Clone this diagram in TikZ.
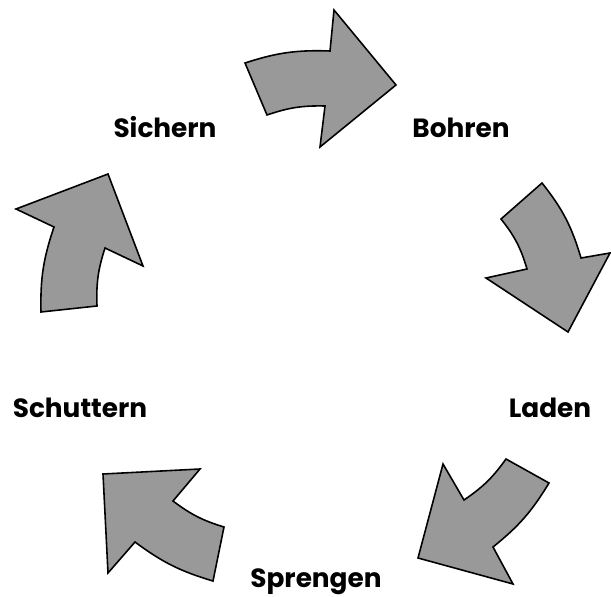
\documentclass[tikz,border=0pt]{standalone}
\usepackage{fontspec}
\setmainfont{Poppins}
\usepackage{tikz}
\usetikzlibrary{arrows.meta,calc}

\begin{document}
\begin{tikzpicture}[x=0.02cm, y=-0.02cm,
  cyclearrow/.style={draw=black, fill=black!40, line width=0.9pt, line join=miter},
  stage/.style={anchor=base, font=\fontsize{15}{18}\selectfont\bfseries, inner sep=0pt}]

\useasboundingbox (0,0) rectangle (611,597);

% labels
\node[stage] (sichern)   at (165,138) {Sichern};
\node[stage] (bohren)    at (461,138) {Bohren};
\node[stage] (laden)     at (550,417) {Laden};
\node[stage] (sprengen)  at (316,587) {Sprengen};
\node[stage] (schuttern) at (80,417)  {Schuttern};

% Sichern -> Bohren
\draw[cyclearrow] (245,63) -- (267,115) to[bend left=10] (325,106)
  -- (320,147) -- (396,85) -- (334,10) -- (330,51) to[bend right=10] cycle;

% Bohren -> Laden
\draw[cyclearrow] (542,183) -- (501,219) to[bend left=11] (527,269)
  -- (486,278) -- (568,332) -- (610,253) -- (581,258) to[bend right=11] cycle;

% Laden -> Sprengen
\draw[cyclearrow] (549,483) -- (506,459) to[bend left=10] (464,500)
  -- (443,464) -- (418,558) -- (513,584) -- (493,547) to[bend right=10] cycle;

% Sprengen -> Schuttern
\draw[cyclearrow] (213,581) -- (224,527) to[bend left=10] (173,501)
  -- (200,469) -- (103,474) -- (108,573) -- (135,542) to[bend right=10] cycle;

% Schuttern -> Sichern
\draw[cyclearrow] (41,312) -- (97,306) to[bend left=10] (105,248)
  -- (143,266) -- (108,174) -- (16,209) -- (54,227) to[bend right=10] cycle;

\end{tikzpicture}
\end{document}
